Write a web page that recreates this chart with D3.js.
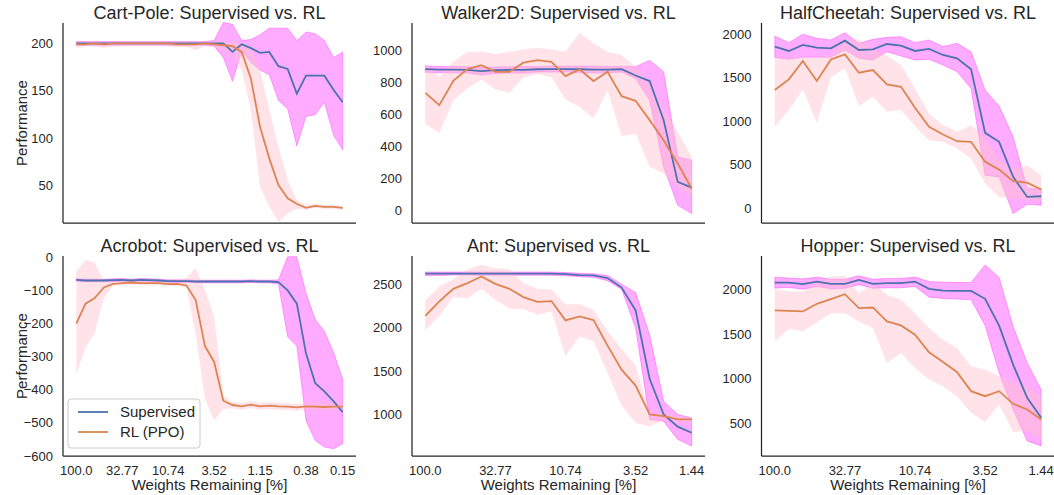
<!DOCTYPE html>
<html>
<head>
<meta charset="utf-8">
<script src="https://cdn.jsdelivr.net/npm/d3@7/dist/d3.min.js"></script>
<style>
  body { margin: 0; background: #fff; }
  svg { display: block; font-family: "Liberation Sans", Arial, sans-serif; }
</style>
</head>
<body>
<svg width="1054" height="495"></svg>
<script>
// pruning rounds: share of weights kept, in percent
const weightsRemaining = [100, 80, 64, 51.2, 40.96, 32.768, 26.214, 20.972, 16.777, 13.422,
  10.737, 8.59, 6.872, 5.498, 4.398, 3.518, 2.815, 2.252, 1.801, 1.441,
  1.153, 0.922, 0.738, 0.59, 0.472, 0.378, 0.302, 0.242, 0.193, 0.155];
const ticksClassic = [100, 32.768, 10.737, 3.518, 1.153, 0.378, 0.155];
const tickLabelsClassic = ["100.0", "32.77", "10.74", "3.52", "1.15", "0.38", "0.15"];
const ticksMujoco = [100, 32.768, 10.737, 3.518, 1.441];
const tickLabelsMujoco = ["100.0", "32.77", "10.74", "3.52", "1.44"];

const seriesNames = ["Supervised", "RL (PPO)"];

// Cart-Pole
const cartpoleSup   = [200,200,200,200,200,200,200,200,200,200,200,200,200,200,200,200,200,191,199,195,190,191,176,173,147,166,166,166,151,138];
const cartpoleSupLo = [198,198,198,198,198,198,198,198,198,198,198,198,198,198,198,197,185,160,192,180,172,167,140,131,92,123,125,138,103,88];
const cartpoleSupHi = [202,202,202,202,202,202,202,202,202,202,202,202,202,202,202,203,222,220,203,204,209,216,216,216,203,212,210,203,185,191];
const cartpoleRl    = [199,199,200,199,200,200,200,200,200,200,200,199,199,199,200,199,198,197,191,163,112,79,51,37,31,27,29,28,28,27];
const cartpoleRlLo  = [195,197,197,195,197,197,197,197,197,197,197,196,196,193,197,196,193,190,172,130,49,28,12,21,26,25,27,26,26,25];
const cartpoleRlHi  = [202,202,203,202,202,202,202,202,202,202,202,202,202,202,202,202,202,201,200,195,172,130,91,56,35,30,31,30,30,29];

// Walker2D
const walkerSup   = [885,882,882,880,872,878,880,880,884,885,885,884,882,882,884,845,810,565,178,142];
const walkerSupLo = [865,862,862,860,848,858,860,860,866,866,866,864,860,862,866,826,690,272,31,-21];
const walkerSupHi = [905,902,902,900,896,898,900,900,902,904,904,904,904,902,902,900,941,868,335,314];
const walkerRl    = [736,659,812,885,910,868,868,925,941,931,841,883,810,868,715,686,565,439,293,136];
const walkerRlLo  = [540,485,690,764,820,757,736,833,854,833,695,649,575,753,464,481,272,230,146,84];
const walkerRlHi  = [925,837,931,994,994,979,994,1008,1019,1008,994,1113,1046,994,973,900,795,628,492,335];

// HalfCheetah
const cheetahSup   = [1858,1808,1877,1846,1838,1927,1819,1827,1888,1869,1808,1831,1762,1723,1596,865,762,358,127,135];
const cheetahSupLo = [1735,1712,1735,1735,1735,1819,1723,1704,1800,1750,1704,1712,1646,1569,1377,377,358,-65,42,31];
const cheetahSupHi = [1981,1904,2000,1954,1935,2019,1896,1942,1965,1973,1904,1935,1858,1896,1800,1358,1173,819,223,223];
const cheetahRl    = [1358,1481,1692,1462,1711,1769,1558,1588,1423,1396,1154,935,846,769,762,531,442,308,292,212];
const cheetahRlLo  = [935,1127,1365,981,1504,1608,1173,1281,1108,1127,942,781,762,685,569,281,127,108,96,88];
const cheetahRlHi  = [1723,1723,1742,1723,1761,1935,1942,1827,1750,1646,1377,1088,954,877,954,819,550,454,492,377];

// Acrobot
const acrobotSup   = [-68,-70,-70,-70,-69,-68,-70,-68,-69,-70,-72,-72,-72,-73,-73,-73,-73,-73,-73,-72,-73,-73,-75,-100,-140,-290,-380,-405,-435,-468];
const acrobotSupLo = [-72,-74,-74,-74,-73,-72,-74,-72,-73,-74,-76,-76,-76,-77,-77,-77,-77,-77,-77,-76,-77,-77,-80,-240,-268,-493,-553,-573,-578,-563];
const acrobotSupHi = [-64,-66,-66,-66,-65,-64,-66,-64,-65,-66,-68,-68,-68,-69,-69,-69,-69,-69,-69,-68,-69,-69,-68,2,2,-108,-188,-223,-288,-368];
const acrobotRl    = [-200,-140,-123,-91,-80,-78,-76,-78,-78,-78,-81,-80,-85,-130,-268,-316,-433,-446,-450,-445,-450,-448,-450,-451,-453,-450,-451,-452,-451,-451];
const acrobotRlLo  = [-352,-273,-228,-123,-86,-84,-82,-84,-84,-84,-87,-86,-92,-235,-428,-493,-458,-456,-460,-455,-460,-458,-460,-461,-463,-460,-461,-462,-461,-461];
const acrobotRlHi  = [-43,-8,-16,-73,-74,-72,-70,-72,-72,-72,-75,-74,-60,-33,-98,-178,-418,-436,-440,-435,-440,-438,-440,-441,-443,-440,-441,-442,-441,-441];

// Ant
const antSup   = [2620,2620,2622,2622,2620,2620,2620,2620,2620,2620,2615,2605,2600,2570,2460,2200,1410,1000,860,790];
const antSupLo = [2600,2600,2605,2605,2602,2602,2602,2602,2602,2602,2596,2585,2578,2540,2440,1995,942,923,713,636];
const antSupHi = [2640,2640,2640,2640,2640,2640,2640,2640,2640,2640,2634,2625,2620,2600,2500,2404,1918,1153,1000,962];
const antRl    = [2136,2301,2446,2511,2588,2504,2446,2351,2297,2305,2083,2129,2087,1792,1516,1333,1000,981,944,944];
const antRlLo  = [1968,2136,2351,2339,2443,2320,2217,2213,2148,2186,1670,1899,1842,1478,1103,904,858,940,915,925];
const antRlHi  = [2312,2473,2557,2672,2722,2684,2672,2511,2446,2435,2270,2270,2205,1957,1754,1563,1000,1010,985,965];

// Hopper
const hopperSup   = [2074,2074,2056,2085,2059,2059,2104,2059,2067,2067,2085,2004,1985,1981,1981,1893,1593,1159,789,567];
const hopperSupLo = [2011,2020,2000,2030,2005,2010,2050,2010,2015,2015,2030,1911,1895,1890,1881,1593,1067,659,307,252];
const hopperSupHi = [2133,2125,2115,2135,2110,2110,2150,2110,2120,2120,2135,2085,2078,2074,2074,2270,2133,1585,1178,881];
const hopperRl    = [1763,1759,1752,1837,1889,1944,1789,1796,1641,1596,1493,1296,1189,1074,863,807,863,722,659,548];
const hopperRlLo  = [1418,1556,1530,1630,1733,1733,1641,1567,1178,1289,1122,993,919,807,622,518,715,407,418,326];
const hopperRlHi  = [2000,1974,1974,2067,2141,2148,1956,2067,1937,1881,1733,1567,1437,1344,1141,1104,1030,963,919,807];

const panels = [
  { title: "Cart-Pole: Supervised vs. RL", col: 0, row: 0, n: 30, yDomain: [11, 221.4], yTicks: [50, 100, 150, 200],
    sup: cartpoleSup, supLo: cartpoleSupLo, supHi: cartpoleSupHi, rl: cartpoleRl, rlLo: cartpoleRlLo, rlHi: cartpoleRlHi },
  { title: "Walker2D: Supervised vs. RL", col: 1, row: 0, n: 20, yDomain: [-80, 1174], yTicks: [0, 200, 400, 600, 800, 1000],
    sup: walkerSup, supLo: walkerSupLo, supHi: walkerSupHi, rl: walkerRl, rlLo: walkerRlLo, rlHi: walkerRlHi },
  { title: "HalfCheetah: Supervised vs. RL", col: 2, row: 0, n: 20, yDomain: [-173, 2130], yTicks: [0, 500, 1000, 1500, 2000],
    sup: cheetahSup, supLo: cheetahSupLo, supHi: cheetahSupHi, rl: cheetahRl, rlLo: cheetahRlLo, rlHi: cheetahRlHi },
  { title: "Acrobot: Supervised vs. RL", col: 0, row: 1, n: 30, yDomain: [-600, 4], yTicks: [-600, -500, -400, -300, -200, -100, 0],
    sup: acrobotSup, supLo: acrobotSupLo, supHi: acrobotSupHi, rl: acrobotRl, rlLo: acrobotRlLo, rlHi: acrobotRlHi, legend: true },
  { title: "Ant: Supervised vs. RL", col: 1, row: 1, n: 20, yDomain: [522, 2824], yTicks: [1000, 1500, 2000, 2500],
    sup: antSup, supLo: antSupLo, supHi: antSupHi, rl: antRl, rlLo: antRlLo, rlHi: antRlHi },
  { title: "Hopper: Supervised vs. RL", col: 2, row: 1, n: 20, yDomain: [140, 2370], yTicks: [500, 1000, 1500, 2000],
    sup: hopperSup, supLo: hopperSupLo, supHi: hopperSupHi, rl: hopperRl, rlLo: hopperRlLo, rlHi: hopperRlHi }
];

const colLeft = [63, 412, 761.5];
const rowTop = [23, 256];
const plotW = 293;
const plotH = 200;
const pad = 13.3;
const ink = "#262626";
const blue = "#4c72b0";
const orange = "#dd8452";

const svg = d3.select("svg");

panels.forEach((p) => {
  const g = svg.append("g")
    .attr("transform", `translate(${colLeft[p.col]},${rowTop[p.row]})`);

  const w = weightsRemaining.slice(0, p.n);
  const x = d3.scaleLog().domain([w[0], w[p.n - 1]]).range([pad, plotW - pad]);
  const y = d3.scaleLinear().domain(p.yDomain).range([plotH, 0]);

  const band = (lo, hi) => d3.area()
    .x((d, i) => x(w[i]))
    .y0((d, i) => y(lo[i]))
    .y1((d, i) => y(hi[i]))(w);
  const line = (vals) => d3.line()
    .x((d, i) => x(w[i]))
    .y((d, i) => y(vals[i]))(w);

  g.append("path").attr("d", band(p.supLo, p.supHi))
    .attr("fill", "#ff00ff").attr("fill-opacity", 0.33)
    .attr("stroke", "#ff00ff").attr("stroke-opacity", 0.3).attr("stroke-width", 1);
  g.append("path").attr("d", band(p.rlLo, p.rlHi))
    .attr("fill", "#ffc0cb").attr("fill-opacity", 0.45);
  g.append("path").attr("d", line(p.sup))
    .attr("fill", "none").attr("stroke", blue).attr("stroke-width", 1.8);
  g.append("path").attr("d", line(p.rl))
    .attr("fill", "none").attr("stroke", orange).attr("stroke-width", 1.8);

  // spines
  g.append("line").attr("x1", 0).attr("x2", 0).attr("y1", 0).attr("y2", plotH)
    .attr("stroke", ink).attr("stroke-width", 1.25);
  g.append("line").attr("x1", 0).attr("x2", plotW).attr("y1", plotH).attr("y2", plotH)
    .attr("stroke", ink).attr("stroke-width", 1.25);

  // y ticks
  g.selectAll(".ytick").data(p.yTicks).enter().append("text")
    .attr("x", -10).attr("y", (d) => y(d)).attr("dy", "0.35em")
    .attr("text-anchor", "end").attr("font-size", 13).attr("fill", ink)
    .text((d) => d3.format("d")(d));

  g.append("text").attr("x", plotW / 2).attr("y", -4)
    .attr("text-anchor", "middle").attr("font-size", 18).attr("fill", ink)
    .text(p.title);

  if (p.col === 0) {
    g.append("text")
      .attr("transform", `translate(${-36},${plotH / 2}) rotate(-90)`)
      .attr("text-anchor", "middle").attr("font-size", 15).attr("fill", ink)
      .text("Performance");
  }

  if (p.row === 1) {
    const ticks = p.n === 30 ? ticksClassic : ticksMujoco;
    const labels = p.n === 30 ? tickLabelsClassic : tickLabelsMujoco;
    g.selectAll(".xtick").data(ticks).enter().append("text")
      .attr("x", (d) => x(d)).attr("y", plotH + 19)
      .attr("text-anchor", "middle").attr("font-size", 13).attr("fill", ink)
      .text((d, i) => labels[i]);
    g.append("text").attr("x", plotW / 2).attr("y", plotH + 34)
      .attr("text-anchor", "middle").attr("font-size", 15).attr("fill", ink)
      .text("Weights Remaining [%]");
  }

  if (p.legend) {
    const lg = g.append("g").attr("transform", `translate(5,${plotH - 57})`);
    lg.append("rect").attr("width", 132).attr("height", 49).attr("rx", 3)
      .attr("fill", "#fff").attr("fill-opacity", 0.8)
      .attr("stroke", "#cccccc").attr("stroke-width", 1);
    [blue, orange].forEach((c, i) => {
      lg.append("line").attr("x1", 10).attr("x2", 40)
        .attr("y1", 13 + i * 20).attr("y2", 13 + i * 20)
        .attr("stroke", c).attr("stroke-width", 1.8);
      lg.append("text").attr("x", 52).attr("y", 13 + i * 20).attr("dy", "0.35em")
        .attr("font-size", 15).attr("fill", ink).text(seriesNames[i]);
    });
  }
});
</script>
</body>
</html>
